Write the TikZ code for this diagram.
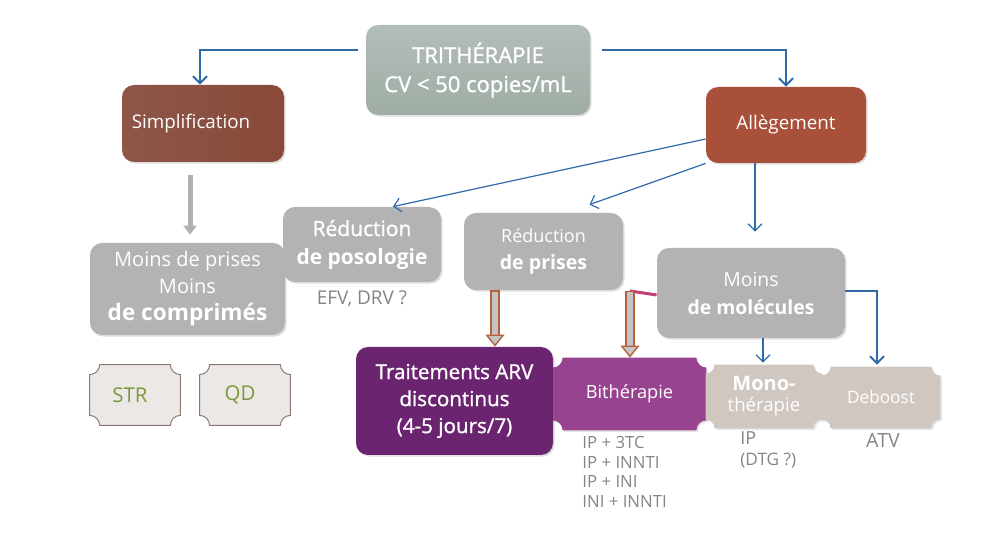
\documentclass[tikz,border=0pt]{standalone}
\usepackage{fontspec}
\setmainfont{Open Sans}
\newfontfamily\medium[FakeBold=1.2]{Open Sans}
\usetikzlibrary{arrows.meta,backgrounds,shadows}

\definecolor{trigreen}{HTML}{9FADA5}
\definecolor{simpbrown}{HTML}{834839}
\definecolor{allegred}{HTML}{A9503A}
\definecolor{boxgray}{HTML}{B3B3B3}
\definecolor{arvpurple}{HTML}{6B2470}
\definecolor{bipurple}{HTML}{984390}
\definecolor{taupe}{HTML}{D0C7C1}
\definecolor{tagfill}{HTML}{ECE8E6}
\definecolor{tagline}{HTML}{8C7772}
\definecolor{taggreen}{HTML}{789A3A}
\definecolor{notegray}{HTML}{858585}
\definecolor{linkblue}{HTML}{2E6AA8}
\definecolor{rust}{HTML}{B5603F}
\definecolor{hollowgray}{HTML}{C4C4C4}
\definecolor{pinkline}{HTML}{C03F78}

% concave-cornered outline round a node
\newcommand{\plaque}[2]{%
  ([xshift=#2]#1.north west) -- ([xshift=-#2]#1.north east)
  arc[start angle=180,end angle=270,radius=#2]
  -- ([yshift=#2]#1.south east)
  arc[start angle=90,end angle=180,radius=#2]
  -- ([xshift=#2]#1.south west)
  arc[start angle=0,end angle=90,radius=#2]
  -- ([yshift=-#2]#1.north west)
  arc[start angle=270,end angle=360,radius=#2] -- cycle}

\begin{document}
\begin{tikzpicture}[
  x=0.5pt, y=0.5pt,
  box/.style={
    rounded corners=6pt,
    align=center,
    text=white,
    inner sep=2pt,
    drop shadow={opacity=0.25, shadow xshift=0.8pt, shadow yshift=-0.8pt}
  },
  graybox/.style={box, fill=boxgray, font=\fontsize{10}{13.5}\selectfont},
  tag/.style={align=center, inner sep=0pt},
  note/.style={text=notegray, align=left, inner sep=0pt,
    font=\fontsize{8.4}{9.8}\selectfont},
  link/.style={draw=linkblue, line width=1pt,
    -{Straight Barb[length=3.5pt, width=7pt]}},
  thinlink/.style={draw=linkblue, line width=0.6pt,
    -{Straight Barb[length=3.5pt, width=7pt]}},
  hollow/.style={
    draw=hollowgray, line width=3.4pt, shorten <=0.7pt,
    -{Triangle[length=6pt, width=9.5pt, line width=0.7pt, color=rust, fill=hollowgray]},
    preaction={draw=rust, line width=4.8pt, -, shorten <=0pt, shorten >=5.5pt}
  }
]
\useasboundingbox (0,0) rectangle (982,-540);

% top
\node[box, minimum width=112pt, minimum height=45pt,
  top color=trigreen!80!white, bottom color=trigreen,
  font=\fontsize{11}{14.5}\medium] (tri) at (478,-70)
  {TRITHÉRAPIE\\CV < 50 copies/mL};
\node[box, minimum width=81pt, minimum height=38.5pt,
  left color=simpbrown!92!white, right color=simpbrown!85!allegred,
  font=\fontsize{9.4}{10}\selectfont] (simp) at (203,-123.5)
  {Simplification\hspace{12pt}};
\node[box, minimum width=80pt, minimum height=38pt, fill=allegred,
  font=\fontsize{9.4}{10}\selectfont] (alleg) at (786,-125) {Allègement};

% middle row
\node[graybox, minimum width=97.5pt, minimum height=46pt] (mprises) at (187.5,-289)
  {Moins de prises\\Moins\\\fontsize{11.3}{13}\bfseries de comprimés};
\node[graybox, minimum width=79pt, minimum height=37.5pt,
  font=\fontsize{10.5}{14}\selectfont] (redposo) at (362,-244.5)
  {{\medium Réduction}\\\bfseries de posologie};
\node[graybox, minimum width=79.5pt, minimum height=38.5pt,
  font=\fontsize{9}{13.5}\selectfont] (redprises) at (543.5,-251.5)
  {Réduction\\\fontsize{9.8}{13.5}\bfseries de prises};
\node[graybox, minimum width=94pt, minimum height=45pt,
  font=\fontsize{9.7}{14}\selectfont] (mmol) at (751,-293)
  {Moins\\\bfseries de molécules};
\node[note, anchor=north, font=\fontsize{9.5}{11}\selectfont] (posonote) at (362,-290)
  {EFV, DRV ?};

% bottom row
\node[box, minimum width=98.5pt, minimum height=54pt, fill=arvpurple,
  font=\fontsize{10.3}{13.5}\medium] (arv) at (454.5,-401)
  {Traitements ARV\\discontinus\\(4-5 jours/7)};
\node[tag, minimum width=76.5pt, minimum height=36pt, text=white,
  font=\fontsize{9.1}{10}\selectfont] (bi) at (629.5,-394) {Bithérapie};
\node[tag, minimum width=58pt, minimum height=31.5pt, text=white,
  font=\fontsize{9.3}{10.5}\selectfont] (mono) at (764,-396.5)
  {{\fontsize{10}{10.5}\bfseries Mono-}\\thérapie};
\node[tag, minimum width=59pt, minimum height=30.5pt, text=white,
  font=\fontsize{8.6}{10}\selectfont] (deboost) at (881,-397.5) {Deboost};
\node[tag, minimum width=45pt, minimum height=30pt, text=taggreen,
  font=\fontsize{10.2}{10}\selectfont] (str) at (135,-395) {STR\hspace{5pt}};
\node[tag, minimum width=45pt, minimum height=30pt, text=taggreen,
  font=\fontsize{10.2}{10}\selectfont] (qd) at (245,-395) {QD\hspace{5pt}};

\node[note, anchor=north west] (binote) at (582,-436)
  {IP + 3TC\\IP + INNTI\\IP + INI\\INI + INNTI};
\node[note, anchor=north west, font=\fontsize{9}{10.5}\selectfont] (mononote) at (740,-431)
  {IP\\{\fontsize{8.6}{10}\selectfont(DTG ?)}};
\node[note, anchor=north, font=\fontsize{9.8}{11}\selectfont] (debnote) at (883,-433) {ATV};

\begin{scope}[on background layer]
  \fill[bipurple, drop shadow={opacity=0.2, shadow xshift=0.8pt, shadow yshift=-0.8pt}]
    \plaque{bi}{5pt};
  \fill[taupe, drop shadow={opacity=0.2, shadow xshift=0.8pt, shadow yshift=-0.8pt}]
    \plaque{mono}{4.5pt};
  \fill[taupe, drop shadow={opacity=0.2, shadow xshift=0.8pt, shadow yshift=-0.8pt}]
    \plaque{deboost}{4.5pt};
  \filldraw[fill=tagfill, draw=tagline, line width=0.5pt] \plaque{str}{5pt};
  \filldraw[fill=tagfill, draw=tagline, line width=0.5pt] \plaque{qd}{5pt};
\end{scope}

% connectors
\draw[link] ([xshift=-4pt, yshift=10pt]tri.west) -| ([xshift=-1.5pt]simp.north);
\draw[link] ([xshift=6pt, yshift=10pt]tri.east) -| (alleg.north);
\draw[thinlink] ([yshift=-7pt]alleg.west) -- ([xshift=15.5pt]redposo.north);
\draw[thinlink] (alleg.south west) -- ([xshift=23pt, yshift=4pt]redprises.north);
\draw[thinlink] ([xshift=-15.5pt]alleg.south) -- ([xshift=2pt, yshift=8pt]mmol.north);
\draw[thinlink] ([xshift=6pt]mmol.south) -- ([xshift=-0.5pt, yshift=1pt]mono.north);
\draw[link] ([yshift=1pt]mmol.east) -| ([xshift=-2pt, yshift=1pt]deboost.north);
\draw[draw=hollowgray!90!black, line width=2.5pt,
  -{Triangle[length=4.5pt, width=6.5pt]}]
  ([xshift=-6.5pt, yshift=-6.5pt]simp.south) -- ([xshift=1.25pt, yshift=4pt]mprises.north);

\coordinate (split) at (630,-291);
\draw[pinkline, line width=1.5pt] ([yshift=-1pt]mmol.west) -- (split);
\draw[hollow] ([xshift=-24.25pt]redprises.south) -- ([xshift=20.25pt]arv.north);
\draw[hollow] (split) -- (split |- bi.north);
\end{tikzpicture}
\end{document}
